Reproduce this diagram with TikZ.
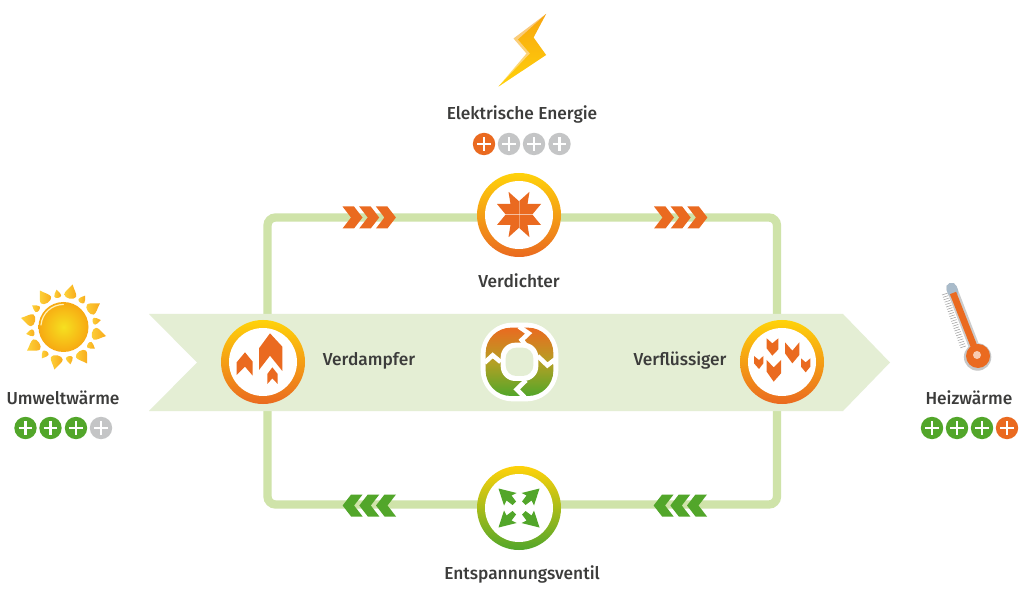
\documentclass[tikz,border=0pt]{standalone}
\usepackage{fontspec}
\setmainfont{Fira Sans Medium}
\definecolor{lineG}{HTML}{CFE3A9}
\definecolor{bandG}{HTML}{E4EED4}
\definecolor{orng}{HTML}{EA6A20}
\definecolor{grn}{HTML}{52A62A}
\definecolor{gry}{HTML}{C4C5C6}
\definecolor{yel}{HTML}{FFD20A}
\definecolor{txt}{HTML}{3C3C3B}
\definecolor{rayA}{HTML}{FDD23A}
\definecolor{rayB}{HTML}{F8A91A}
\definecolor{midC}{HTML}{B5A024}
\definecolor{boltA}{HTML}{F8C480}
\definecolor{boltB}{HTML}{FFE070}
\definecolor{boltC}{HTML}{F8A60F}
\definecolor{sunA}{HTML}{F6E020}
\definecolor{sunB}{HTML}{F7A912}
\definecolor{capC}{HTML}{A9BBCA}
\tikzset{
 x=0.75pt,y=-0.75pt,
 loopline/.style={draw=lineG,line width=6.2pt,rounded corners=6pt},
 ringO/.style={circle,minimum size=63pt,inner sep=0pt,top color=yel,bottom color=orng},
 ringG/.style={circle,minimum size=63pt,inner sep=0pt,top color=yel,bottom color=grn},
 hole/.style={circle,fill=white,minimum size=51pt,inner sep=0pt},
 lbl/.style={font=\fontsize{13pt}{15pt}\selectfont,text=txt,inner sep=0pt},
 badge/.style={circle,minimum size=16.8pt,inner sep=0pt},
 plusbar/.style={draw=white,line width=2.1pt},
 rayshade/.style={top color=rayA,bottom color=rayB,shading angle=90}
}
\newcommand{\plusbadge}[4]{%
 \node[badge,fill=#3] (#4) at (#1,#2) {};
 \draw[plusbar] ([xshift=-5.2pt]#4.center) -- ([xshift=5.2pt]#4.center);
 \draw[plusbar] ([yshift=-5.2pt]#4.center) -- ([yshift=5.2pt]#4.center);}
\newcommand{\chevronR}[3]{%
 \fill[#3,shift={(#1,#2)}] (0,-11) -- (11.5,-11) -- (20,0) -- (11.5,11) -- (0,11) -- (8.5,0) -- cycle;}
\newcommand{\chevronL}[3]{%
 \fill[#3,shift={(#1,#2)}] (0,-11) -- (-11.5,-11) -- (-20,0) -- (-11.5,11) -- (0,11) -- (-8.5,0) -- cycle;}
\begin{document}
\begin{tikzpicture}
\useasboundingbox (0,0) rectangle (1024,598);
\fill[white] (0,0) rectangle (1024,598);
% loop anchors
\coordinate (loopW) at (267.5,361);
\coordinate (loopN) at (519,217.5);
\coordinate (loopE) at (777,361);
\coordinate (loopS) at (519,504.5);
\draw[loopline] (loopW) |- (loopN) -| (loopE) |- (loopS) -| (loopW);
% band
\fill[bandG] (149,314) -- (843,314) -- (890,362.5) -- (843,411) -- (149,411) -- (197,362.5) -- cycle;
% chevrons
\foreach \i in {0,1,2}{
 \chevronR{342.5+16.7*\i}{217.5}{orng}
 \chevronR{654+16.7*\i}{217.5}{orng}
 \chevronL{396-16.7*\i}{505.5}{grn}
 \chevronL{707-16.7*\i}{505.5}{grn}
}
% rings
\node[ringO] (verdichter) at (519,215) {}; \node[hole] at (verdichter) {};
\node[ringO] (verdampfer) at (263,362) {}; \node[hole] at (verdampfer) {};
\node[ringO] (verfl) at (782,362) {}; \node[hole] at (verfl) {};
\node[ringG] (ventil) at (519,508) {}; \node[hole] at (ventil) {};
% Verdichter icon
\foreach \sx/\sy in {1/1,-1/1,1/-1,-1/-1}{
 \fill[orng,shift={(519,214.5)},xscale=\sx,yscale=\sy] (-.25,-.25) -- (-13.5,-.25) -- (-22,-10.5) -- (-8.5,-10.5) -- (-10.5,-22.7) -- (-.25,-13.5) -- cycle;
}
% Ventil icon
\foreach \sx/\sy in {1/1,-1/1,1/-1,-1/-1}{
 \fill[grn,shift={(519,508)},xscale=\sx,yscale=\sy] (-20.5,-19.5) -- (-2.5,-15) -- (-7.5,-12.5) -- (-3,-6.5) -- (-6.5,-3) -- (-12.5,-7.5) -- (-15,-2.5) -- cycle;
}
% Verdampfer icon
\begin{scope}[shift={(210,310)},scale=1/3]
 \fill[orng] (180,70) -- (217,110) -- (217,183) -- (180,137) -- (147,180) -- (147,115) -- cycle;
 \fill[orng] (105,127) -- (128,155) -- (128,197) -- (105,170) -- (80,195) -- (80,157) -- cycle;
 \fill[orng] (187,172) -- (203,192) -- (203,222) -- (187,205) -- (172,222) -- (172,192) -- cycle;
\end{scope}
% Verfluessiger icon
\begin{scope}[shift={(730,310)},scale=1/3]
 \fill[orng] (110,85) -- (127,100) -- (145,85) -- (145,118) -- (127,137) -- (110,115) -- cycle;
 \fill[orng] (165,97) -- (187,122) -- (208,97) -- (208,135) -- (187,160) -- (165,130) -- cycle;
 \fill[orng] (72,138) -- (87,150) -- (100,138) -- (100,160) -- (87,177) -- (72,160) -- cycle;
 \fill[orng] (110,150) -- (131,172) -- (153,150) -- (153,190) -- (131,215) -- (110,185) -- cycle;
 \fill[orng] (213,145) -- (227,157) -- (241,145) -- (241,170) -- (227,187) -- (213,170) -- cycle;
\end{scope}
% centre icon
\begin{scope}[shift={(470,312)},scale=1/3]
 \fill[white,rounded corners=24pt] (32,32) rectangle (265,268);
 \shade[top color=orng,bottom color=grn,middle color=midC,rounded corners=19pt] (47,47) rectangle (250,252);
 \fill[white,rounded corners=11pt] (92,92) rectangle (205,207);
 \fill[bandG,rounded corners=8pt] (107,107) rectangle (190,192);
 \draw[white,line width=3.4pt,line join=miter] (147,44) -- (176,64) -- (155,84) -- (166,98);
 \draw[white,line width=3.4pt,line join=miter] (203,132) -- (232,160) -- (250,146) -- (258,156);
 \draw[white,line width=3.4pt,line join=miter] (168,205) -- (140,232) -- (160,252) -- (155,260);
 \draw[white,line width=3.4pt,line join=miter] (92,150) -- (68,130) -- (44,152);
\end{scope}
% bolt
\shade[top color=boltA,bottom color=boltB]
 (546,14) -- (513.5,38.5) -- (526.5,53.5) -- (498.5,86.5) -- (546,55) -- (533.5,37.5) -- cycle;
\shade[top color=boltC,bottom color=yel]
 (546,14) -- (518,39.5) -- (530,53.5) -- (498.5,86.5) -- (546,55) -- (533.5,37.5) -- cycle;
% sun
\begin{scope}[shift={(63.5,327)}]
 \foreach \a in {12,57,...,327}{
  \begin{scope}[rotate=-\a]
   \shade[rayshade] (43.5,0) .. controls (38,-3) and (35,-6.5) .. (32,-6) .. controls (28,-5) and (28,5) .. (32,6) .. controls (35,6.5) and (38,3) .. (43.5,0) -- cycle;
  \end{scope}
 }
 \foreach \a in {34.5,79.5,...,349.5}{
  \begin{scope}[rotate=-\a]
   \shade[rayshade] (38,0) .. controls (35.5,-1.8) and (33,-3.8) .. (31.5,-3.5) .. controls (29,-3) and (29,3) .. (31.5,3.5) .. controls (33,3.8) and (35.5,1.8) .. (38,0) -- cycle;
  \end{scope}
 }
 \shade[inner color=sunA,outer color=sunB] (0,0) circle[radius=25];
 \draw[white!70!yel,line width=.9pt,line cap=round] (-22.5,-2) arc[start angle=185,end angle=270,radius=22.5];
\end{scope}
% thermometer
\begin{scope}
 \fill[gray!45] (977.6,357) circle[radius=13.7];
 \draw[gray!40,line width=8pt,line cap=round] (951.5,288) -- (977,354);
 \draw[capC,line width=8pt,line cap=round] (951.5,288) -- (953,292);
 \draw[orng,line width=5pt] (953,293) -- (977,354);
 \foreach \t in {0,1,...,22}{
  \draw[gray!75,line width=.4pt] ({942+\t*0.83},{295+\t*2.4}) -- ({947.5+\t*0.83},{293.2+\t*2.4});
 }
 \fill[orng] (978,356) circle[radius=12];
 \fill[white!65!orng] (977,355) circle[radius=4];
\end{scope}
% labels
\node[lbl] (l1) at (522,114.5) {Elektrische Energie};
\node[lbl] (l2) at (519,280.5) {Verdichter};
\node[lbl] (l3) at (369,360.5) {Verdampfer};
\node[lbl] (l4) at (680,360.5) {Verflüssiger};
\node[lbl] (l5) at (522,574) {Entspannungsventil};
\node[lbl] (l6) at (63,397.5) {Umweltwärme};
\node[lbl] (l7) at (969,397.5) {Heizwärme};
% badges
\plusbadge{484}{144}{orng}{e1}\plusbadge{509}{144}{gry}{e2}\plusbadge{534}{144}{gry}{e3}\plusbadge{559.5}{144}{gry}{e4}
\plusbadge{25.5}{428}{grn}{u1}\plusbadge{50.5}{428}{grn}{u2}\plusbadge{76}{428}{grn}{u3}\plusbadge{101}{428}{gry}{u4}
\plusbadge{932}{428}{grn}{h1}\plusbadge{957}{428}{grn}{h2}\plusbadge{982}{428}{grn}{h3}\plusbadge{1007}{428}{orng}{h4}
\end{tikzpicture}
\end{document}
